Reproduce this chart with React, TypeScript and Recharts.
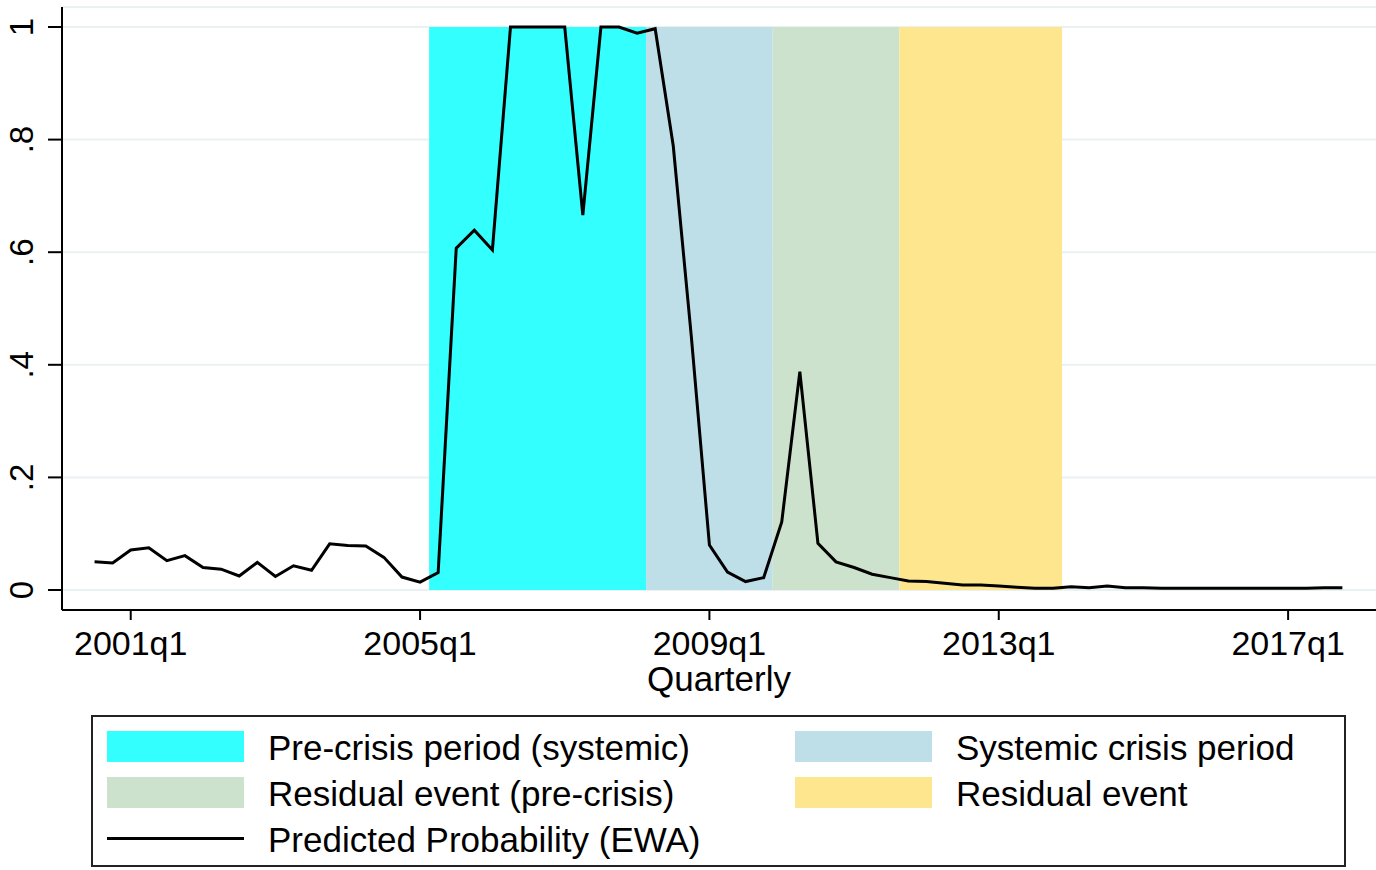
import React from "react";
import {
  ComposedChart,
  Line,
  XAxis,
  YAxis,
  CartesianGrid,
  ReferenceArea,
} from "recharts";

// Quarters are stored as Stata-style %tq numbers (quarters since 1960q1).
const FIRST_QUARTER = 162; // 2000q3

// Predicted probability (EWA), one value per quarter from 2000q3 to 2017q4.
const probability = [
  0.05, 0.048, 0.071, 0.075, 0.052, 0.061, 0.04, 0.037, 0.025, 0.049,
  0.024, 0.043, 0.035, 0.082, 0.079, 0.078, 0.058, 0.023, 0.014, 0.031,
  0.607, 0.639, 0.604, 1.0, 1.0, 1.0, 1.0, 0.666, 1.0, 1.0,
  0.989, 0.997, 0.789, 0.45, 0.08, 0.032, 0.015, 0.022, 0.121, 0.388,
  0.083, 0.05, 0.04, 0.028, 0.022, 0.016, 0.015, 0.012, 0.009, 0.009,
  0.007, 0.005, 0.003, 0.003, 0.006, 0.004, 0.007, 0.004, 0.004, 0.003,
  0.003, 0.003, 0.003, 0.003, 0.003, 0.003, 0.003, 0.003, 0.004, 0.004,
];

// Shaded periods: first and last quarter covered (inclusive).
const periodNames = [
  "Pre-crisis period (systemic)",
  "Systemic crisis period",
  "Residual event (pre-crisis)",
  "Residual event",
];
const periodStart = [181, 193, 200, 207]; // 2005q2, 2008q2, 2010q1, 2011q4
const periodEnd = [192, 199, 206, 215]; // 2008q1, 2009q4, 2011q3, 2013q4
const periodColors = ["#33FFFF", "#BEDFE8", "#CDE2CC", "#FEE68E"];

const xTicks = [164, 180, 196, 212, 228];
const yTicks = [0, 0.2, 0.4, 0.6, 0.8, 1];
const yTickLabels = ["0", ".2", ".4", ".6", ".8", "1"];

const lineName = "Predicted Probability (EWA)";
const xTitle = "Quarterly";

const data = probability.map((p, i) => ({ t: FIRST_QUARTER + i, p }));

const FONT = "'Liberation Sans', Arial, Helvetica, sans-serif";

const formatQuarter = (t: number) => {
  const year = 1960 + Math.floor(t / 4);
  const q = (t % 4) + 1;
  return `${year}q${q}`;
};

const XTick = (props: any) => {
  const { x, y, payload } = props;
  return (
    <text
      x={x}
      y={y + 35}
      textAnchor="middle"
      fontSize={34}
      fontFamily={FONT}
      fill="#000"
    >
      {formatQuarter(payload.value)}
    </text>
  );
};

const YTick = (props: any) => {
  const { x, y, payload } = props;
  const idx = yTicks.findIndex((v) => Math.abs(v - payload.value) < 1e-9);
  const label = idx >= 0 ? yTickLabels[idx] : String(payload.value);
  const bx = x - 15;
  return (
    <text
      x={bx}
      y={y}
      transform={`rotate(-90 ${bx} ${y})`}
      textAnchor="middle"
      fontSize={33}
      fontFamily={FONT}
      fill="#000"
    >
      {label}
    </text>
  );
};

const XTitle = (props: any) => {
  const { viewBox } = props;
  const cx = viewBox.x + viewBox.width / 2;
  return (
    <text
      x={cx}
      y={viewBox.y + 81}
      textAnchor="middle"
      fontSize={35}
      fontFamily={FONT}
      fill="#000"
    >
      {xTitle}
    </text>
  );
};

const Swatch = ({ color }: { color: string }) => (
  <div style={{ width: 137, height: 31, background: color }} />
);

const LegendRow = ({
  left,
  top,
  textLeft,
  marker,
  label,
}: {
  left: number;
  top: number;
  textLeft: number;
  marker: React.ReactNode;
  label: string;
}) => (
  <div style={{ position: "absolute", left: 0, top, height: 0 }}>
    <div
      style={{
        position: "absolute",
        left,
        top: -16,
        height: 32,
        display: "flex",
        alignItems: "center",
      }}
    >
      {marker}
    </div>
    <div
      style={{
        position: "absolute",
        left: textLeft,
        top: -18,
        height: 40,
        lineHeight: "40px",
        fontSize: 35,
        whiteSpace: "nowrap",
        color: "#000",
      }}
    >
      {label}
    </div>
  </div>
);

const ChartLegend = () => {
  // Box spans x 91..1346, y 715..867 on the page.
  const boxLeft = 91;
  const boxTop = 715;
  const rowY = [746, 792, 838].map((v) => v - boxTop);
  const col1 = 107 - boxLeft;
  const col2 = 795 - boxLeft;
  const text1 = 268 - boxLeft;
  const text2 = 956 - boxLeft;
  return (
    <div
      style={{
        position: "absolute",
        left: boxLeft,
        top: boxTop,
        width: 1346 - boxLeft,
        height: 867 - boxTop,
        boxSizing: "border-box",
        border: "2px solid #222",
        fontFamily: FONT,
      }}
    >
      <LegendRow left={col1 - 2} top={rowY[0] - 2} textLeft={text1 - 2} marker={<Swatch color={periodColors[0]} />} label={periodNames[0]} />
      <LegendRow left={col2 - 2} top={rowY[0] - 2} textLeft={text2 - 2} marker={<Swatch color={periodColors[1]} />} label={periodNames[1]} />
      <LegendRow left={col1 - 2} top={rowY[1] - 2} textLeft={text1 - 2} marker={<Swatch color={periodColors[2]} />} label={periodNames[2]} />
      <LegendRow left={col2 - 2} top={rowY[1] - 2} textLeft={text2 - 2} marker={<Swatch color={periodColors[3]} />} label={periodNames[3]} />
      <LegendRow
        left={col1 - 2}
        top={rowY[2] - 2}
        textLeft={text1 - 2}
        marker={<div style={{ width: 137, height: 3, background: "#000" }} />}
        label={lineName}
      />
    </div>
  );
};

export default function App() {
  return (
    <div
      style={{
        position: "absolute",
        left: 0,
        top: 0,
        width: 1376,
        height: 870,
        background: "#fff",
        fontFamily: FONT,
        overflow: "hidden",
      }}
    >
      <ComposedChart
        width={1376}
        height={700}
        data={data}
        margin={{ top: 7, right: 0, bottom: 0, left: 0 }}
      >
        <CartesianGrid
          vertical={false}
          stroke="#E9F1F3"
          strokeWidth={2}
        />
        {periodStart.map((s, i) => (
          <ReferenceArea
            key={periodNames[i]}
            x1={s - 0.5}
            x2={periodEnd[i] + 0.5}
            y1={0}
            y2={1}
            fill={periodColors[i]}
            fillOpacity={1}
            stroke="none"
          />
        ))}
        <XAxis
          type="number"
          dataKey="t"
          domain={[160.2, 232.86]}
          allowDataOverflow
          ticks={xTicks}
          interval={0}
          height={90}
          tickSize={10}
          tickMargin={0}
          axisLine={{ stroke: "#000", strokeWidth: 2 }}
          tickLine={{ stroke: "#000", strokeWidth: 2 }}
          tick={<XTick />}
          label={<XTitle />}
        />
        <YAxis
          type="number"
          domain={[-0.0355, 1.0355]}
          allowDataOverflow
          ticks={yTicks}
          interval={0}
          width={62}
          tickSize={14}
          tickMargin={0}
          axisLine={{ stroke: "#000", strokeWidth: 2 }}
          tickLine={{ stroke: "#000", strokeWidth: 2 }}
          tick={<YTick />}
        />
        <Line
          type="linear"
          dataKey="p"
          stroke="#000"
          strokeWidth={3}
          dot={false}
          activeDot={false}
          isAnimationActive={false}
        />
      </ComposedChart>
      <ChartLegend />
    </div>
  );
}
